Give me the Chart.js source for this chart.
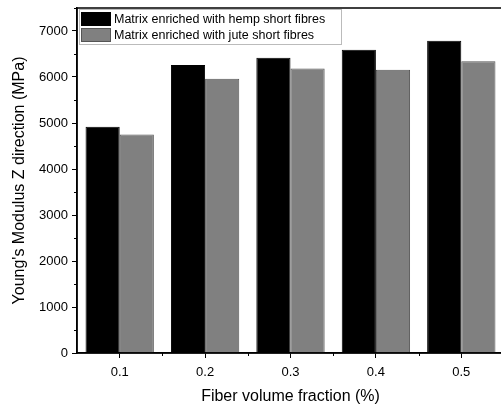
<!DOCTYPE html>
<html>
<head>
<meta charset="utf-8">
<script src="https://cdn.jsdelivr.net/npm/chart.js@4"></script>
<style>
  html, body { margin: 0; padding: 0; background: #fff; overflow: hidden; }
  #wrap { width: 505px; height: 410px; }
</style>
</head>
<body>
<div id="wrap"><canvas id="chart" width="505" height="410"></canvas></div>
<script>
// data
const fractions = ['0.1', '0.2', '0.3', '0.4', '0.5'];
const hempValues = [4920, 6260, 6420, 6590, 6790];
const juteValues = [4750, 5960, 6185, 6160, 6340];
const seriesNames = ['Matrix enriched with hemp short fibres', 'Matrix enriched with jute short fibres'];
const yTicks = [0, 1000, 2000, 3000, 4000, 5000, 6000, 7000];
const yMinorTicks = [500, 1500, 2500, 3500, 4500, 5500, 6500, 7500];

const FONT = '"Liberation Sans", Arial, sans-serif';

// frame, minor ticks and boxed legend
const extras = {
    id: 'extras',
    afterDraw(chart) {
        const ctx = chart.ctx;
        const a = chart.chartArea;
        const x = chart.scales.x, y = chart.scales.y;
        ctx.save();
        ctx.strokeStyle = '#000';
        ctx.lineWidth = 1.5;
        ctx.strokeRect(a.left, a.top, a.right - a.left, a.bottom - a.top);

        // minor ticks
        ctx.lineWidth = 1;
        ctx.beginPath();
        yMinorTicks.forEach(v => {
            const py = Math.round(y.getPixelForValue(v)) + 0.5;
            ctx.moveTo(a.left, py);
            ctx.lineTo(a.left - 3, py);
        });
        const step = x.getPixelForValue(1) - x.getPixelForValue(0);
        for (let i = 0; i < fractions.length - 1; i++) {
            const px = Math.round(x.getPixelForValue(i) + step / 2) + 0.5;
            ctx.moveTo(px, a.bottom);
            ctx.lineTo(px, a.bottom + 3);
        }
        ctx.stroke();

        // legend
        const lx = a.left + 2, ly = a.top + 1, lw = 262, lh = 35;
        ctx.fillStyle = '#fff';
        ctx.fillRect(lx, ly, lw, lh);
        ctx.strokeStyle = '#bbb';
        ctx.lineWidth = 1;
        ctx.strokeRect(lx + 0.5, ly + 0.5, lw, lh);
        ctx.font = '12.5px ' + FONT;
        ctx.textBaseline = 'middle';
        chart.data.datasets.forEach((ds, i) => {
            const sy = ly + 3 + i * 16;
            ctx.fillStyle = ds.backgroundColor;
            ctx.fillRect(lx + 2, sy, 30, 14);
            ctx.strokeStyle = ds.borderColor;
            ctx.strokeRect(lx + 2.5, sy + 0.5, 29, 13);
            ctx.fillStyle = '#000';
            ctx.fillText(ds.label, lx + 35, sy + 7.5);
        });
        ctx.restore();
    }
};

new Chart(document.getElementById('chart'), {
    type: 'bar',
    data: {
        labels: fractions,
        datasets: [
            {
                label: seriesNames[0],
                data: hempValues,
                backgroundColor: '#000000',
                borderColor: '#000000',
                borderWidth: 1
            },
            {
                label: seriesNames[1],
                data: juteValues,
                backgroundColor: '#808080',
                borderColor: '#555555',
                borderWidth: 1
            }
        ]
    },
    options: {
        responsive: false,
        animation: false,
        layout: { padding: { left: 6, top: 8, right: 1, bottom: 0 } },
        categoryPercentage: 0.8,
        barPercentage: 1.0,
        plugins: {
            legend: { display: false },
            tooltip: { enabled: false }
        },
        scales: {
            x: {
                afterFit(scale) { scale.height = 57; },
                grid: {
                    offset: false,
                    drawOnChartArea: false,
                    tickLength: 5,
                    color: '#000'
                },
                border: { color: '#000', width: 1.5 },
                ticks: {
                    color: '#000',
                    font: { family: FONT, size: 13 },
                    padding: 7
                },
                title: {
                    display: true,
                    text: 'Fiber volume fraction (%)',
                    color: '#000',
                    font: { family: FONT, size: 16 },
                    padding: { top: 9 }
                }
            },
            y: {
                min: 0,
                max: 7500,
                afterFit(scale) {
                    scale.width = 71;
                    scale.paddingTop = 0;
                    scale.paddingBottom = 0;
                },
                afterBuildTicks(scale) {
                    scale.ticks = yTicks.map(v => ({ value: v }));
                },
                grid: {
                    drawOnChartArea: false,
                    tickLength: 5,
                    color: '#000'
                },
                border: { color: '#000', width: 1.5 },
                ticks: {
                    color: '#000',
                    font: { family: FONT, size: 13 },
                    padding: 4,
                    callback: v => String(v)
                },
                title: {
                    display: true,
                    text: "Young's Modulus Z direction (MPa)",
                    color: '#000',
                    font: { family: FONT, size: 16 },
                    padding: { bottom: 4 }
                }
            }
        }
    },
    plugins: [extras]
});
</script>
</body>
</html>
